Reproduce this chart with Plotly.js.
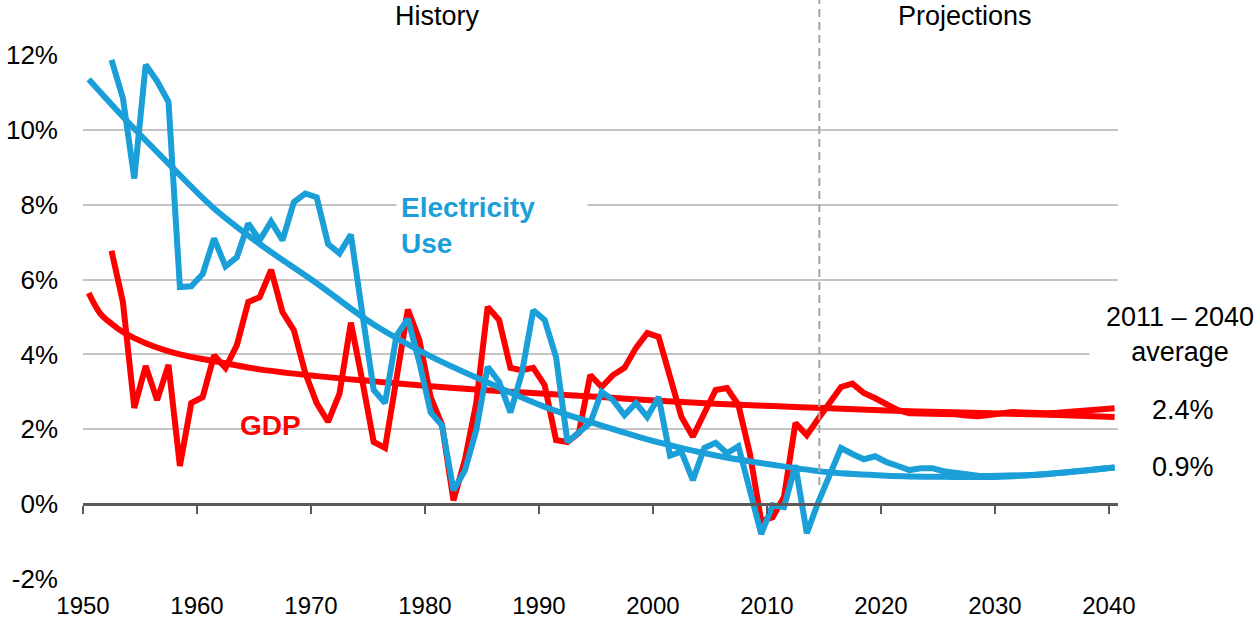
<!DOCTYPE html>
<html>
<head>
<meta charset="utf-8">
<script src="https://cdn.plot.ly/plotly-3.0.1.min.js"></script>
<style>
  html, body { margin: 0; padding: 0; background: #fff; }
  #chart { width: 1259px; height: 630px; }
</style>
</head>
<body>
<div id="chart"></div>
<script>
// ---- data (annual % growth) ----
const elecYears = [];
for (let y = 1952; y <= 2040; y++) elecYears.push(y);
const elecUse = [
  11.87, 10.85, 8.70, 11.74, 11.30, 10.75, 5.80, 5.82, 6.15, 7.10,
  6.35, 6.60, 7.50, 7.05, 7.55, 7.05, 8.07, 8.30, 8.20, 6.95,
  6.70, 7.20, 5.10, 3.05, 2.70, 4.50, 4.95, 3.80, 2.45, 2.10,
  0.37, 0.90, 1.98, 3.67, 3.27, 2.45, 3.50, 5.18, 4.92, 3.93,
  1.66, 1.93, 2.17, 3.00, 2.78, 2.38, 2.70, 2.33, 2.86, 1.30,
  1.40, 0.64, 1.50, 1.64, 1.36, 1.55, 0.30, -0.80, -0.03, -0.08,
  1.04, -0.78, 0.05, 0.80, 1.50, 1.34, 1.20, 1.28, 1.12, 1.02,
  0.91, 0.96, 0.96, 0.88, 0.83, 0.78, 0.76, 0.75, 0.75, 0.76,
  0.77, 0.78, 0.80, 0.82, 0.85, 0.88, 0.92, 0.95, 0.98
];
const gdpYears = elecYears.slice();
const gdp = [
  6.77, 5.40, 2.57, 3.69, 2.78, 3.72, 1.02, 2.70, 2.86, 3.98,
  3.64, 4.25, 5.40, 5.53, 6.26, 5.13, 4.65, 3.50, 2.70, 2.20,
  2.95, 4.85, 3.30, 1.66, 1.50, 3.40, 5.20, 4.40, 2.86, 2.11,
  0.10, 1.18, 2.70, 5.27, 4.92, 3.64, 3.58, 3.64, 3.18, 1.71,
  1.66, 1.90, 3.45, 3.13, 3.45, 3.64, 4.17, 4.57, 4.47, 3.40,
  2.33, 1.80, 2.43, 3.05, 3.10, 2.65, 1.36, -0.45, -0.35, 0.19,
  2.17, 1.84, 2.28, 2.70, 3.13, 3.22, 2.97, 2.83, 2.67, 2.51,
  2.43, 2.43, 2.42, 2.41, 2.40, 2.37, 2.35, 2.38, 2.42, 2.46,
  2.45, 2.43, 2.43, 2.44, 2.46, 2.48, 2.51, 2.54, 2.56
];
// trend curves (at selected years)
const elecTrendYears = [1950, 1953, 1957, 1961, 1965, 1970, 1975, 1980, 1985, 1990, 1995, 2000, 2005, 2010, 2015, 2020, 2025, 2030, 2035, 2040];
const elecTrend      = [11.35, 10.35, 9.10, 7.90, 6.95, 5.90, 4.80, 3.95, 3.25, 2.60, 2.10, 1.65, 1.30, 1.05, 0.85, 0.76, 0.73, 0.73, 0.83, 0.98];
const gdpTrendYears  = [1950, 1951, 1952, 1953, 1955, 1958, 1961, 1965, 1970, 1975, 1980, 1986, 1990, 1995, 2000, 2005, 2010, 2015, 2020, 2025, 2030, 2035, 2040];
const gdpTrend       = [5.64, 5.10, 4.82, 4.60, 4.30, 4.00, 3.82, 3.60, 3.42, 3.28, 3.15, 3.02, 2.95, 2.86, 2.76, 2.68, 2.62, 2.56, 2.50, 2.46, 2.42, 2.38, 2.33];
const yTicks = [-2, 0, 2, 4, 6, 8, 10, 12];
const yTickText = ['-2%', '0%', '2%', '4%', '6%', '8%', '10%', '12%'];
const xTicks = [1950, 1960, 1970, 1980, 1990, 2000, 2010, 2020, 2030, 2040];
const xTickText = xTicks.map(String);

// annual values are plotted mid-year
const mid = arr => arr.map(v => v + 0.5);

const BLUE = '#1a9fd9';
const RED = '#ff0000';
const FONT = 'Liberation Sans, Arial, sans-serif';
const LW = 6;

const traces = [
  { x: mid(gdpTrendYears), y: gdpTrend, type: 'scatter', mode: 'lines',
    line: { color: RED, width: LW, shape: 'spline' }, xaxis: 'x', yaxis: 'y', cliponaxis: false },
  { x: mid(gdpYears), y: gdp, type: 'scatter', mode: 'lines',
    line: { color: RED, width: LW }, xaxis: 'x', yaxis: 'y', cliponaxis: false },
  { x: mid(elecTrendYears), y: elecTrend, type: 'scatter', mode: 'lines',
    line: { color: BLUE, width: LW, shape: 'spline' }, xaxis: 'x2', yaxis: 'y', cliponaxis: false },
  { x: mid(elecYears), y: elecUse, type: 'scatter', mode: 'lines',
    line: { color: BLUE, width: LW }, xaxis: 'x2', yaxis: 'y', cliponaxis: false }
];

const L = 83, R = 1118, T = 55, B = 579;
const px = v => (v - L) / (R - L);
const py = v => (B - v) / (B - T);

function label(text, x, y, size, color, extra) {
  return Object.assign({
    text: text, xref: 'paper', yref: 'paper', x: px(x), y: py(y),
    xanchor: 'center', yanchor: 'middle', showarrow: false,
    font: { size: size, color: color, family: FONT }
  }, extra || {});
}

const layout = {
  width: 1259, height: 630,
  margin: { l: L, r: 1259 - R, t: T, b: 630 - B },
  paper_bgcolor: '#fff', plot_bgcolor: '#fff',
  showlegend: false,
  font: { family: FONT, color: '#000' },
  xaxis: {
    range: [1950, 2040.8], tickvals: xTicks, ticktext: xTickText,
    showgrid: false, zeroline: false, showline: false, ticks: '',
    ticklabelstandoff: 10,
    tickfont: { family: FONT, size: 24, color: '#000' }
  },
  xaxis2: {
    range: [1950, 2040.8], overlaying: 'x', anchor: 'free', position: 2 / 14,
    tickvals: xTicks, showticklabels: false, showgrid: false, zeroline: false,
    showline: true, linecolor: '#595959', linewidth: 2.5,
    ticks: 'outside', ticklen: 8, tickwidth: 1.5, tickcolor: '#595959'
  },
  yaxis: {
    range: [-2, 12], tickvals: yTicks, ticktext: yTickText,
    showgrid: true, gridcolor: '#c4c4c4', gridwidth: 2,
    zeroline: false, showline: false, ticks: '',
    ticklabelstandoff: 24,
    tickfont: { family: FONT, size: 26, color: '#000' }
  },
  shapes: [
    { type: 'line', xref: 'x', yref: 'paper', x0: 2014.6, x1: 2014.6, y0: py(485), y1: py(0),
      line: { color: '#a6a6a6', width: 2, dash: '8px,5px' } }
  ],
  annotations: [
    label('History', 437, 16, 27, '#000'),
    label('Projections', 965, 16, 27, '#000'),
    label('<b>Electricity<br>Use</b>', 396, 225, 28, BLUE,
      { xanchor: 'left', align: 'left', width: 182, borderpad: 4, bgcolor: '#fff' }),
    label('<b>GDP</b>', 270, 425, 28, RED),
    label('2011 – 2040<br>average', 1180, 334, 27, '#000',
      { width: 172, borderpad: 4, bgcolor: '#fff' }),
    label('2.4%', 1183, 410, 27, '#000'),
    label('0.9%', 1183, 467, 27, '#000')
  ]
};

Plotly.newPlot('chart', traces, layout, { staticPlot: true, displayModeBar: false });
</script>
</body>
</html>
